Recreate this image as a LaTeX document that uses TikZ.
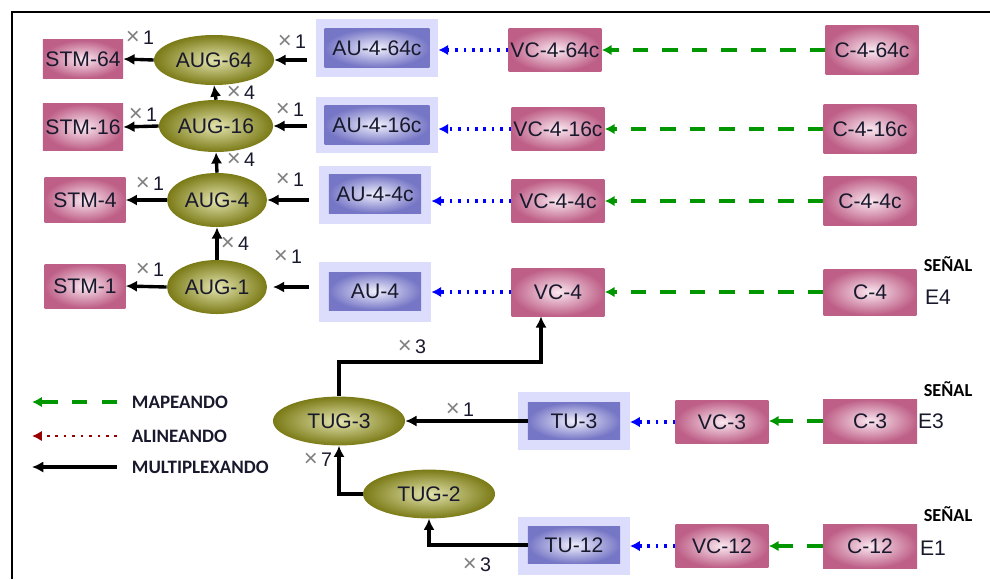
\documentclass[tikz,border=0pt]{standalone}
\usepackage{fontspec}
\setmainfont{Liberation Sans}
\newfontfamily\legfont{Carlito}
\usepackage{tikz}
\usetikzlibrary{shapes.geometric,arrows.meta,positioning,calc}
\usepackage{xcolor}
\definecolor{pinkO}{RGB}{190,95,135}
\definecolor{pinkI}{RGB}{250,232,240}
\definecolor{blueO}{RGB}{118,118,198}
\definecolor{blueI}{RGB}{240,240,253}
\definecolor{lav}{RGB}{220,220,252}
\definecolor{oliveO}{RGB}{122,122,22}
\definecolor{oliveI}{RGB}{228,228,175}
\definecolor{mapgreen}{RGB}{0,150,0}
\definecolor{alnred}{RGB}{150,0,0}
\definecolor{txt}{RGB}{25,25,45}
\newcommand\veces[1]{\textcolor{gray}{\fontsize{17}{17}\selectfont ×}\,#1}

\begin{document}
\begin{tikzpicture}[x=0.025cm, y=-0.025cm,
      every node/.style={font=\fontsize{15}{18}\selectfont, text=txt},
      pinkbox/.style={rectangle, inner sep=0pt, inner color=pinkI, outer color=pinkO,
        minimum width=2.32cm, minimum height=1.08cm},
      bluebox/.style={rectangle, inner sep=0pt, inner color=blueI, outer color=blueO,
        minimum width=2.3cm, minimum height=0.95cm},
      backbox/.style={rectangle, fill=lav, minimum width=2.8cm, minimum height=1.43cm},
      augnode/.style={ellipse, inner sep=0pt, inner color=oliveI, outer color=oliveO,
        minimum width=2.5cm, minimum height=1.35cm},
      cnt/.style={font=\fontsize{14}{16}\selectfont},
      sig/.style={font=\legfont\bfseries\fontsize{13}{15}\selectfont, text=black},
      legtext/.style={font=\legfont\bfseries\fontsize{13.5}{16}\selectfont, anchor=west},
      muxarrow/.style={-{Latex[length=8pt,width=8pt]}, line width=2.4pt},
      maparrow/.style={-{Latex[length=7pt,width=7.5pt]}, mapgreen, line width=2.6pt,
        dash pattern=on 11pt off 10pt},
      alnarrow/.style={-{Latex[length=7pt,width=7.5pt]}, blue, line width=2.2pt,
        dash pattern=on 1.8pt off 4.2pt}
    ]
    \useasboundingbox (0,0) rectangle (990,579);
    % frame
    \draw[line width=1.4pt] (12,579) -- (12,12) -- (990,12);

    % STM column
    \node[pinkbox, minimum width=2cm, minimum height=0.95cm] (stm64) at (83,59) {STM-64};
    \node[pinkbox, minimum width=2cm, minimum height=1.15cm] (stm16) at (83,127) {STM-16};
    \node[pinkbox, minimum width=2.02cm, minimum height=1.1cm] (stm4) at (85,200) {STM-4};
    \node[pinkbox, minimum width=2.02cm, minimum height=1.1cm] (stm1) at (85,286) {STM-1};

    % AUG column
    \node[augnode, minimum width=3cm, minimum height=1.25cm] (aug64) at (214,60) {AUG-64};
    \node[augnode, minimum width=2.85cm, minimum height=1.3cm] (aug16) at (216,126) {AUG-16};
    \node[augnode] (aug4) at (217,200) {AUG-4};
    \node[augnode] (aug1) at (217,287) {AUG-1};

    % AU column
    \node[backbox, minimum width=3.05cm, minimum height=1.45cm] (au64b) at (377,48) {};
    \node[bluebox, minimum width=2.62cm, minimum height=0.97cm] (au64) at (377,48) {AU-4-64c};
    \node[backbox, minimum width=3.05cm, minimum height=1.42cm] (au16b) at (377,125) {};
    \node[bluebox, minimum width=2.62cm, minimum height=0.97cm] (au16) at (377,125) {AU-4-16c};
    \node[backbox] (au4cb) at (375,195) {};
    \node[bluebox] (au4c) at (375,194) {AU-4-4c};
    \node[backbox, minimum height=1.48cm] (au4b) at (375,292) {};
    \node[bluebox] (au4) at (375,291) {AU-4};

    % VC column
    \node[pinkbox] (vc64) at (555,50) {VC-4-64c};
    \node[pinkbox] (vc16) at (558,129) {VC-4-16c};
    \node[pinkbox] (vc4c) at (558,201) {VC-4-4c};
    \node[pinkbox, minimum height=1.2cm] (vc4) at (558,292) {VC-4};

    % C column
    \node[pinkbox, minimum height=1.22cm] (c64) at (872,50) {C-4-64c};
    \node[pinkbox, minimum height=1.22cm] (c16) at (870,129) {C-4-16c};
    \node[pinkbox, minimum height=1.2cm] (c4c) at (870,201) {C-4-4c};
    \node[pinkbox, minimum height=1.15cm] (c4) at (870,292) {C-4};
    \node[sig] (sen4) at (948,264) {SEÑAL};
    \node (e4) at (938,297) {E4};

    % TU branch
    \node[augnode, minimum width=3.3cm, minimum height=1.22cm] (tug3) at (339,421) {TUG-3};
    \node[augnode, minimum width=3.3cm, minimum height=1.22cm] (tug2) at (429,494) {TUG-2};
    \node[backbox, minimum width=2.78cm, minimum height=1.47cm] (tu3b) at (574,421) {};
    \node[bluebox, minimum height=0.93cm] (tu3) at (574,421) {TU-3};
    \node[backbox, minimum width=2.78cm, minimum height=1.47cm] (tu12b) at (574,546) {};
    \node[bluebox, minimum height=0.93cm] (tu12) at (574,545) {TU-12};
    \node[pinkbox] (vc3) at (722,422) {VC-3};
    \node[pinkbox] (vc12) at (722,546) {VC-12};
    \node[pinkbox, minimum width=2.35cm, minimum height=1.1cm] (c3) at (870,421) {C-3};
    \node[pinkbox, minimum width=2.35cm, minimum height=1.1cm] (c12) at (870,546) {C-12};
    \node[sig] (sen3) at (948,389) {SEÑAL};
    \node (e3) at (931,421) {E3};
    \node[sig] (sen1) at (948,514) {SEÑAL};
    \node (e1) at (933,548) {E1};

    % Mapping and aligning
    \foreach \c/\v/\a in {c64/vc64/au64b, c16/vc16/au16b, c4c/vc4c/au4cb, c4/vc4/au4b,
                          c3/vc3/tu3b, c12/vc12/tu12b} {
      \draw[maparrow] (\c.west) -- (\c.west -| \v.east);
      \draw[alnarrow] (\v.west) -- (\v.west -| \a.east);
    }

    % Multiplexing, AU side
    \draw[muxarrow] (aug64.west) -- (stm64.east);
    \draw[muxarrow] (aug16.west) -- (stm16.east);
    \draw[muxarrow] (aug4.west) -- (stm4.east);
    \draw[muxarrow] (aug1.west) -- (stm1.east);
    \draw[muxarrow] (aug16.north) -- (aug64.south);
    \draw[muxarrow] (aug4.north) -- (aug16.south);
    \draw[muxarrow] (aug1.north) -- (aug4.south);
    \draw[muxarrow, shorten <=6pt] (aug64.east -| au64b.west) -- (aug64.east);
    \draw[muxarrow, shorten <=6pt] (aug16.east -| au16b.west) -- (aug16.east);
    \draw[muxarrow, shorten <=7pt] (aug4.east -| au4cb.west) -- (aug4.east);
    \draw[muxarrow, shorten <=7pt, shorten >=4pt] (aug1.east -| au4b.west) -- (aug1.east);

    % Multiplexing, TU side
    \coordinate (up) at (541,362);
    \draw[muxarrow] (tu3.west) -- (tug3.east);
    \draw[muxarrow] (tug3.north) |- (up) -- (up |- vc4.south);
    \draw[muxarrow] (tug2.west) -| (tug3.south);
    \draw[muxarrow] (tu12.west) -| (tug2.south);

    % Counts
    \node[cnt] (k1) at (140,38) {\veces{1}};
    \node[cnt] (k2) at (143,115) {\veces{1}};
    \node[cnt] (k3) at (150,184) {\veces{1}};
    \node[cnt] (k4) at (150,270) {\veces{1}};
    \node[cnt] (k5) at (292,42) {\veces{1}};
    \node[cnt] (k6) at (290,110) {\veces{1}};
    \node[cnt] (k7) at (290,180) {\veces{1}};
    \node[cnt] (k8) at (288,257) {\veces{1}};
    \node[cnt] (k9) at (241,93) {\veces{4}};
    \node[cnt] (k10) at (241,160) {\veces{4}};
    \node[cnt] (k11) at (235,244) {\veces{4}};
    \node[cnt] (k12) at (412,347) {\veces{3}};
    \node[cnt] (k13) at (460,410) {\veces{1}};
    \node[cnt] (k14) at (318,460) {\veces{7}};
    \node[cnt] (k15) at (477,565) {\veces{3}};

    % Legend
    \node[legtext] (lmap) at (127,402) {MAPEANDO};
    \node[legtext] (laln) at (127,436) {ALINEANDO};
    \node[legtext] (lmux) at (127,467) {MULTIPLEXANDO};
    \coordinate (lmapA) at (32,402);
    \coordinate (lalnA) at (32,436);
    \coordinate (lmuxA) at (32,467);
    \draw[maparrow, shorten <=0.25cm] (lmap.west) -- (lmapA);
    \draw[alnarrow, alnred, line width=2pt, shorten <=0.25cm] (laln.west) -- (lalnA);
    \draw[muxarrow, shorten <=0.25cm] (lmux.west) -- (lmuxA);
  \end{tikzpicture}
\end{document}
